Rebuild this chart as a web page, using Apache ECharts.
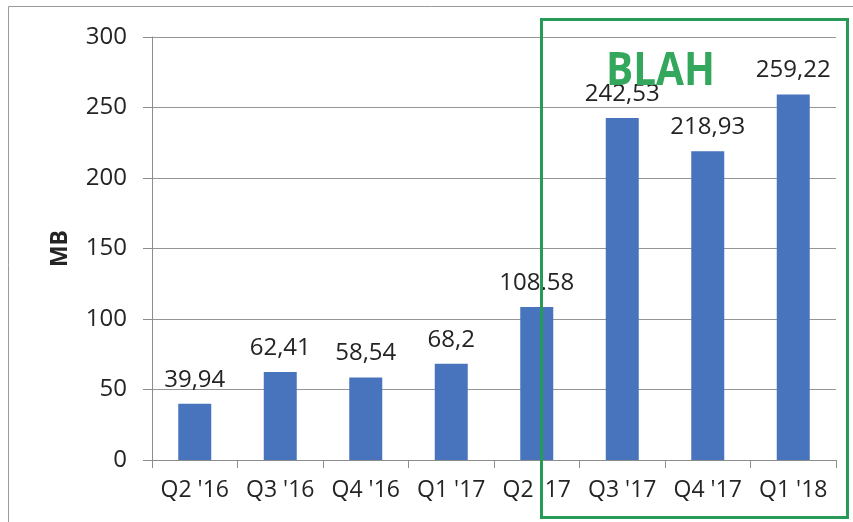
<!DOCTYPE html>
<html>
<head>
<meta charset="utf-8">
<script src="https://cdn.jsdelivr.net/npm/echarts@6/dist/echarts.min.js"></script>
<style>
  html, body { margin: 0; padding: 0; background: #fff; }
  #chart { width: 853px; height: 522px; }
</style>
</head>
<body>
<div id="chart"></div>
<script>
// Quarterly data volume (MB)
const quarters = ["Q2 '16", "Q3 '16", "Q4 '16", "Q1 '17", "Q2 '17", "Q3 '17", "Q4 '17", "Q1 '18"];
const volumeMB = [39.94, 62.41, 58.54, 68.2, 108.58, 242.53, 218.93, 259.22];
const valueLabels = ["39,94", "62,41", "58,54", "68,2", "108.58", "242,53", "218,93", "259,22"];
const yTicks = [0, 50, 100, 150, 200, 250, 300];

const chart = echarts.init(document.getElementById('chart'), null, { renderer: 'canvas' });
const font = '"Open Sans", "Noto Sans", sans-serif';

chart.setOption({
  animation: false,
  backgroundColor: '#ffffff',
  grid: { left: 152, right: 17, top: 37, bottom: 62 },
  xAxis: {
    type: 'category',
    data: quarters,
    axisLine: { lineStyle: { color: '#8c8c8c', width: 1 } },
    axisTick: { show: true, length: 8, alignWithLabel: false, interval: 0, lineStyle: { color: '#8c8c8c' } },
    axisLabel: { color: '#242424', fontSize: 23, fontFamily: font, margin: 19, interval: 0, hideOverlap: false }
  },
  yAxis: {
    type: 'value',
    min: yTicks[0],
    max: yTicks[yTicks.length - 1],
    interval: 50,
    name: 'MB',
    nameLocation: 'middle',
    nameGap: 80,
    nameRotate: 90,
    nameTextStyle: { color: '#242424', fontSize: 23, fontWeight: 'bold', fontFamily: font },
    axisLine: { show: true, lineStyle: { color: '#8c8c8c', width: 1 } },
    axisTick: { show: true, inside: false, length: 9, lineStyle: { color: '#8c8c8c' } },
    axisLabel: { color: '#242424', fontSize: 24, fontFamily: font, margin: 25 },
    splitLine: { lineStyle: { color: '#959595', width: 1 } }
  },
  series: [{
    type: 'bar',
    data: volumeMB,
    barWidth: 33,
    itemStyle: { color: '#4874be' },
    label: {
      show: true,
      position: 'top',
      distance: 12,
      color: '#242424',
      fontSize: 24,
      fontFamily: font,
      formatter: p => valueLabels[p.dataIndex]
    }
  }],
  graphic: [
    // outer chart frame
    { type: 'rect', z: 0, silent: true,
      shape: { x: 8.5, y: 6.5, width: 860, height: 530 },
      style: { fill: 'none', stroke: '#9a9a9a', lineWidth: 1 } },
    // highlight box around the latest quarters
    { type: 'rect', z: 100, silent: true,
      shape: { x: 541.5, y: 19.5, width: 306, height: 498 },
      style: { fill: 'none', stroke: '#279a58', lineWidth: 3 } },
    { type: 'text', z: 101, silent: true,
      x: 606, y: 49, scaleX: 0.88,
      style: { text: 'BLAH', fill: '#33a75c', font: 'bold 46px "Open Sans", "Noto Sans", sans-serif', verticalAlign: 'top' } }
  ]
});
</script>
</body>
</html>
